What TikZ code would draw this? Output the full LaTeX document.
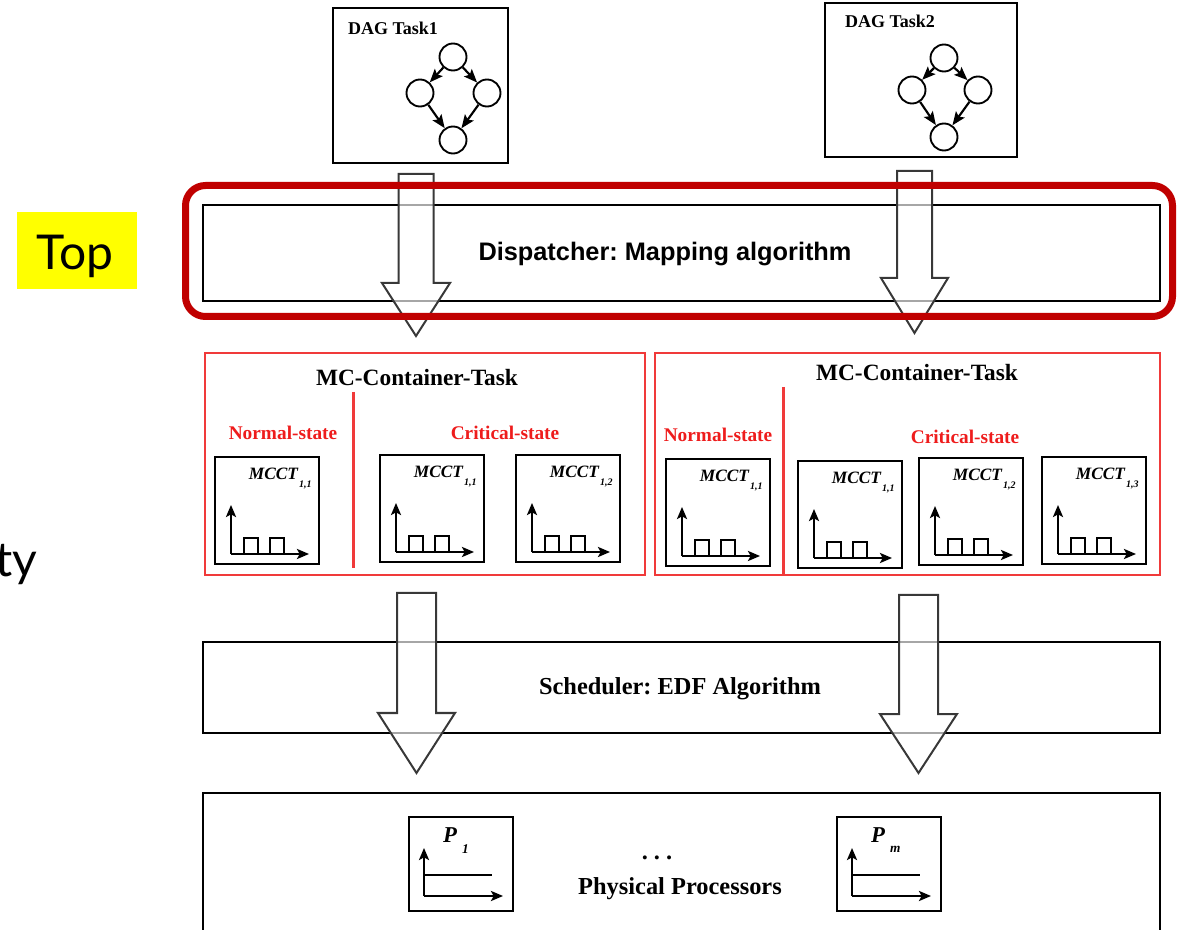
\documentclass[tikz,border=0pt]{standalone}
\usepackage{fontspec}
\setmainfont{Liberation Serif}
\newfontfamily\dispfont{Liberation Sans}
\newfontfamily\topfont{Lato}
\usetikzlibrary{arrows.meta,fit}
\definecolor{frame}{HTML}{C00000}
\definecolor{mcred}{HTML}{F03A3A}
\definecolor{txtred}{HTML}{EE1C1C}
\definecolor{arrgray}{HTML}{383838}
\definecolor{hl}{HTML}{FFFF00}
\frenchspacing

\newcommand\mcct[4]{%
  \node[mcctbox, fit={(#2,#3) ({#2+104},{#3+107})}] (#1) {};
  \draw[axisarrow] ({#2+16},{#3+97}) -- ({#2+16},{#3+48});
  \draw[axisarrow] ({#2+16},{#3+97}) -- ({#2+94},{#3+97});
  \draw[pulse] ({#2+29},{#3+97}) -- ({#2+29},{#3+81}) -- ({#2+43},{#3+81}) -- ({#2+43},{#3+97})
               ({#2+55},{#3+97}) -- ({#2+55},{#3+81}) -- ({#2+69},{#3+81}) -- ({#2+69},{#3+97});
  \node[anchor=east, txt, mcctfont] (#1t) at ({#2+83},{#3+17}) {MCCT};
  \node[anchor=west, txt, subfont] (#1s) at ({#2+84},{#3+28}) {#4};
}
\newcommand\pbox[4]{%
  \node[blackbox, fit={(#2,#3) ({#2+104},{#3+94})}] (#1) {};
  \draw[axisarrow] ({#2+15},{#3+79}) -- ({#2+15},{#3+31});
  \draw[axisarrow] ({#2+15},{#3+79}) -- ({#2+94},{#3+79});
  \draw[pulse] ({#2+15},{#3+58}) -- ({#2+83},{#3+58});
  \node[anchor=west, txt, pfont] (#1t) at ({#2+34},{#3+18}) {P};
  \node[anchor=west, txt, psubfont] (#1s) at ({#2+53},{#3+32}) {#4};
}
\newcommand\blockarrow[7]{% name, cx, ytop, ybase, ytip, shaft half, head half
  \draw[barrow] ({#2-#6},#3) -- ({#2+#6},#3) -- ({#2+#6},#4) -- ({#2+#7},#4)
     -- (#2,#5) coordinate (#1) -- ({#2-#7},#4) -- ({#2-#6},#4) -- cycle;
}

\begin{document}
\begin{tikzpicture}[x=0.75pt,y=-0.75pt,
  txt/.style={inner sep=0pt, outer sep=0pt},
  blackbox/.style={draw=black, line width=1.5pt, inner sep=0pt},
  mcbox/.style={draw=mcred, line width=1.5pt, inner sep=0pt},
  mcctbox/.style={draw=black, line width=1.6pt, inner sep=0pt},
  dagnode/.style={circle, draw=black, line width=1.4pt, minimum size=20.25pt, inner sep=0pt},
  dagedge/.style={line width=1.6pt, -{Stealth[length=10pt,width=8pt,inset=2pt]}},
  barrow/.style={draw=arrgray, line width=1.5pt, fill=white, fill opacity=0.65, line join=miter},
  axisarrow/.style={line width=2pt, -{Stealth[length=9pt,width=7.5pt,inset=2pt]}},
  pulse/.style={line width=1.8pt},
  dagfont/.style={font=\bfseries\fontsize{13.5}{15}\selectfont},
  mcfont/.style={font=\bfseries\fontsize{17.5}{20}\selectfont},
  statefont/.style={font=\bfseries\fontsize{14.5}{16}\selectfont, text=txtred},
  mcctfont/.style={font=\bfseries\itshape\fontsize{13}{15}\selectfont},
  subfont/.style={font=\bfseries\itshape\fontsize{7.5}{9}\selectfont},
  pfont/.style={font=\bfseries\itshape\fontsize{17}{19}\selectfont},
  psubfont/.style={font=\bfseries\itshape\fontsize{10}{11}\selectfont},
  layerfont/.style={font=\bfseries\fontsize{18.3}{21}\selectfont},
  dispfontstyle/.style={font=\dispfont\bfseries\fontsize{19}{22}\selectfont},
  topfontstyle/.style={font=\topfont\fontsize{36}{40}\selectfont},
]
\useasboundingbox (0,0) rectangle (1183,930);

% ---------- DAG tasks ----------
\node[blackbox, fit={(333,8) (508,163)}] (dag1) {};
\node[txt, dagfont] (dag1t) at (393,28) {DAG Task1};
\node[dagnode] (d1a) at (453,57) {};
\node[dagnode] (d1b) at (420,93) {};
\node[dagnode] (d1c) at (487,93) {};
\node[dagnode] (d1d) at (453,140) {};
\draw[dagedge] (d1a) -- (d1b);
\draw[dagedge] (d1a) -- (d1c);
\draw[dagedge] (d1b) -- (d1d);
\draw[dagedge] (d1c) -- (d1d);

\node[blackbox, fit={(825,3) (1017,157)}] (dag2) {};
\node[txt, dagfont] (dag2t) at (890,21) {DAG Task2};
\node[dagnode] (d2a) at (944,58) {};
\node[dagnode] (d2b) at (912,90) {};
\node[dagnode] (d2c) at (978,90) {};
\node[dagnode] (d2d) at (944,137) {};
\draw[dagedge] (d2a) -- (d2b);
\draw[dagedge] (d2a) -- (d2c);
\draw[dagedge] (d2b) -- (d2d);
\draw[dagedge] (d2c) -- (d2d);

% ---------- Dispatcher ----------
\node[blackbox, fit={(203,205) (1160,301)}] (disp) {};
\node[txt, dispfontstyle] (dispt) at (665,254) {Dispatcher: Mapping algorithm};

% ---------- Top label ----------
\node[fill=hl, inner sep=0pt, fit={(17,212) (137,289)}] (topbg) {};
\node[txt, topfontstyle, anchor=base] (topt) at (75,270) {Top};
\node[txt, topfontstyle, anchor=base east] (tyt) at (37,577) {ty};

% ---------- MC containers ----------
\node[mcbox, fit={(205,353) (645,575)}] (mc1) {};
\node[txt, mcfont] (mc1t) at (417,378) {MC-Container-Task};
\draw[draw=mcred, line width=2.25pt] (353,392) coordinate (div1a) -- (353,568) coordinate (div1b);
\node[txt, statefont] (n1) at (283,433) {Normal-state};
\node[txt, statefont] (c1) at (505,433) {Critical-state};
\mcct{m11}{215}{457}{1,1}
\mcct{m12}{380}{455}{1,1}
\mcct{m13}{516}{455}{1,2}

\node[mcbox, fit={(655,353) (1160,575)}] (mc2) {};
\node[txt, mcfont] (mc2t) at (917,373) {MC-Container-Task};
\draw[draw=mcred, line width=2.25pt] (783,387) coordinate (div2a) -- (mc2.south -| div2a);
\node[txt, statefont] (n2) at (718,435) {Normal-state};
\node[txt, statefont] (c2) at (965,437) {Critical-state};
\mcct{m21}{666}{459}{1,1}
\mcct{m22}{798}{461}{1,1}
\mcct{m23}{919}{458}{1,2}
\mcct{m24}{1042}{457}{1,3}

% ---------- Scheduler ----------
\node[blackbox, fit={(203,642) (1160,733)}] (sched) {};
\node[txt, layerfont] (schedt) at (680,689) {Scheduler: EDF Algorithm};

% ---------- Physical processors ----------
\node[inner sep=0pt, fit={(203,793) (1160,930)}] (phys) {};
\draw[line width=1.5pt] (phys.south west) -- (phys.north west) -- (phys.north east) -- (phys.south east);
\pbox{p1}{409}{817}{1}
\pbox{pm}{837}{817}{m}
\node[txt, layerfont] (dots) at (657,858) {. . .};
\node[txt, layerfont] (physt) at (680,889) {Physical Processors};

% ---------- block arrows ----------
\blockarrow{ba1}{416}{174}{283}{336}{17.5}{34}
\blockarrow{ba2}{914.5}{171}{278}{333}{17.5}{33.5}
\blockarrow{ba3}{416.5}{593}{713}{773}{19.5}{38.5}
\blockarrow{ba4}{918.5}{595}{714}{773}{19.5}{38.5}

% ---------- highlight frame ----------
\draw[draw=frame, line width=5.25pt, rounded corners=15pt] (185.5,185.5) rectangle (1172.5,316.5);
\end{tikzpicture}
\end{document}
